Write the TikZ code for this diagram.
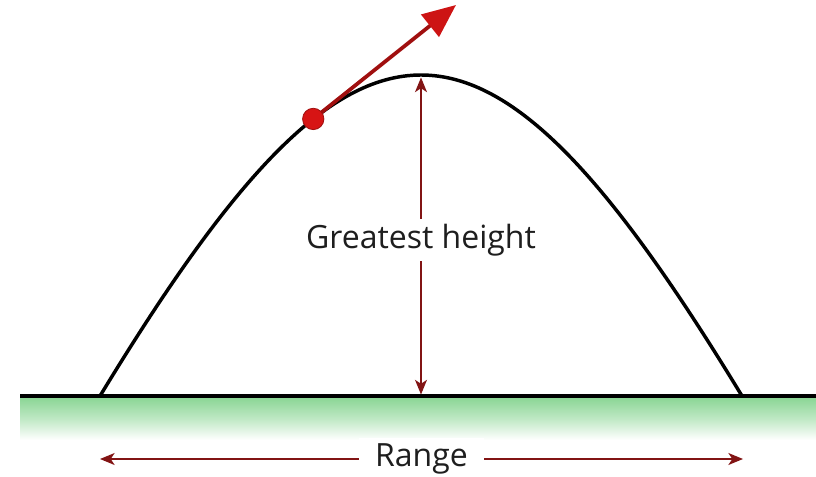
\documentclass[tikz,border=0pt]{standalone}
\usepackage{fontspec}
\setmainfont{Open Sans}
\usetikzlibrary{arrows.meta}
\definecolor{dimred}{RGB}{130,20,20}
\definecolor{velred}{RGB}{160,15,15}
\definecolor{headred}{RGB}{205,20,20}
\definecolor{dotred}{RGB}{215,20,20}
\definecolor{grass}{RGB}{140,214,150}
\definecolor{txt}{RGB}{30,30,30}
\tikzset{
  curvepath/.style={line width=2.6pt, black},
  groundline/.style={line width=3pt, black},
  dimarrow/.style={line width=1pt, dimred, {Stealth[length=11pt,width=9pt,inset=3pt]}-{Stealth[length=11pt,width=9pt,inset=3pt]}},
  lbl/.style={fill=white, text=txt, font=\fontsize{24}{28}\selectfont, inner xsep=9pt, inner ysep=4pt},
  velarrow/.style={line width=2.8pt, velred, -{Triangle[length=25pt,width=21pt,color=headred]}},
  balldot/.style={circle, fill=dotred, draw=velred, line width=0.6pt, minimum size=16pt, inner sep=0pt}
}
\begin{document}
\begin{tikzpicture}[x=0.75pt,y=-0.75pt]
\useasboundingbox (0,0) rectangle (816,477);
% ground
\shade[top color=grass, bottom color=white, middle color=grass!55!white] (20,398) rectangle (816,440);
\coordinate (gl) at (20,396);
\coordinate (gr) at (816,396);
\draw[groundline] (gl) -- (gr);
% trajectory
\coordinate (start) at (100,396);
\coordinate (finish) at (742,396);
\draw[curvepath] (start) .. controls (360,-32) and (482,-32) .. (finish)
  coordinate[pos=0.315] (ballpos);
% height dimension
\coordinate (apex) at (421,77.5);
\coordinate (apexbase) at (421,394.5);
\draw[dimarrow] (apex) -- node[lbl, yshift=-3pt] (gh) {Greatest height} (apexbase);
% range dimension
\coordinate (rl) at (100,459);
\coordinate (rr) at (743,459);
\draw[dimarrow] (rl) -- node[lbl, inner xsep=12pt] (rg) {Range} (rr);
% velocity arrow and ball
\coordinate (veltip) at (456,5);
\draw[velarrow] (ballpos) -- (veltip);
\node[balldot] (ball) at (ballpos) {};
\end{tikzpicture}
\end{document}
